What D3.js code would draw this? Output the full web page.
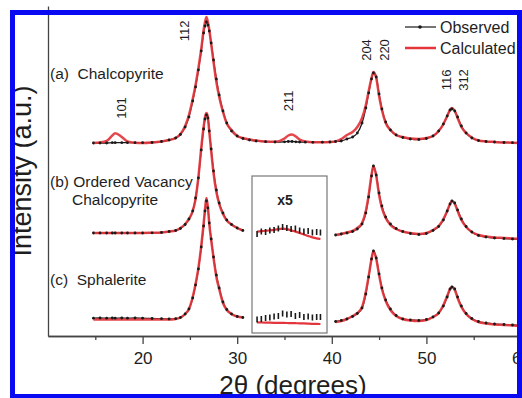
<!DOCTYPE html>
<html>
<head>
<meta charset="utf-8">
<script src="https://cdn.jsdelivr.net/npm/d3@7/dist/d3.min.js"></script>
<style>
  body { margin: 0; background: #fff; }
  text { font-family: "Liberation Sans", Arial, sans-serif; fill: #1e1e1e; white-space: pre; }
</style>
</head>
<body>
<script>
// 2theta grid shared by the three patterns (degrees)
const twoTheta = [
  14.8, 15.5, 16.2, 16.8, 17.1, 17.8, 18.4, 19.2, 20.0, 21.0,
  22.0, 22.8, 23.5, 24.0, 24.5, 24.9, 25.3, 25.6, 25.9, 26.2,
  26.45, 26.6, 26.75, 26.9, 27.05, 27.25, 27.5, 27.8, 28.1, 28.5,
  28.9, 29.4, 30.0, 30.6, 31.3, 32.0, 33.0, 34.0, 35.0, 35.4,
  35.8, 36.2, 36.6, 37.2, 38.0, 39.0, 39.8, 40.4, 41.0, 41.6,
  42.2, 42.7, 43.2, 43.6, 43.9, 44.2, 44.4, 44.7, 45.0, 45.3,
  45.7, 46.2, 46.8, 47.5, 48.3, 49.2, 50.0, 50.7, 51.3, 51.8,
  52.2, 52.5, 52.7, 53.0, 53.3, 53.7, 54.2, 54.8, 55.5, 56.3,
  57.2, 58.2, 59.1, 60.0
];

// (a) Chalcopyrite
const calcA = [
  0, 0.5, 2, 7.5, 9.7, 6, 1.5, 0.3, 0, 0.5,
  1.5, 3, 5, 9, 17, 28, 44, 58, 75, 94,
  113, 121, 126, 121, 113, 99, 81, 61, 46, 31,
  19.5, 13, 7, 5, 3.5, 2.5, 1.5, 1.2, 4.5, 7.5,
  8.5, 6.5, 3.5, 1.5, 0.8, 0.8, 1, 1.5, 4, 8,
  11, 16, 25, 38, 52, 65, 71, 65, 47, 33,
  20, 13, 8, 6, 4.5, 4, 5, 7, 12, 19,
  27, 33, 35, 32, 25, 16, 10, 5.5, 2.5, 1.5,
  1, 0.5, 0.3, 0
];
const obsA = [
  0, 0, 0, 0.3, 0.3, 0.3, 0.3, 0.3, 0.3, 0.5,
  1.5, 3, 5, 8.5, 16, 26, 42, 56, 73, 92,
  110, 117, 121, 118, 112, 100, 83, 64, 48, 32,
  20, 12, 7, 4.5, 3, 2, 1.3, 1, 1.2, 1.5,
  1.5, 1.2, 1, 0.8, 0.7, 0.8, 1, 1.5, 2, 4,
  6, 10, 20, 35, 50, 64, 70, 66, 49, 34,
  21, 13, 8, 5.5, 4, 3.5, 4.5, 7, 12, 19,
  27, 33, 34, 32, 26, 17, 10, 5, 2.5, 1.5,
  1, 0.5, 0.3, 0
];

// (b) Ordered Vacancy Chalcopyrite (null = hidden behind the x5 inset)
const calcB = [
  0, 0, 0, 0, 0, 0, 0, 0, 0, 0.2,
  0.5, 1.5, 2.5, 5, 9, 14, 22, 34, 56, 85,
  106, 116, 120, 116, 101, 82, 60, 41, 29, 19,
  12.5, 8.5, 5, 2.5, null, null, null, null, null, null,
  null, null, null, null, null, null, null, -2, -1, 0.5,
  2, 5, 10, 22, 38, 58, 67, 57, 38, 25,
  15, 8, 4, 1.5, 0, -1, 0, 3, 7, 14,
  22, 29, 32, 29, 22, 13, 6, 1, -2, -3.5,
  -4.5, -5, -5.5, -6
];
const obsB = [
  0, 0, 0, 0, 0, 0, 0, 0, 0, 0.2,
  0.5, 1.5, 2.5, 4.5, 8.5, 14, 22, 35, 55, 83,
  104, 114, 118, 115, 102, 84, 62, 43, 30, 20,
  13, 8.5, 5, 2.5, null, null, null, null, null, null,
  null, null, null, null, null, null, null, -2, -1, 0,
  1.5, 4, 9, 20, 36, 57, 67, 58, 40, 27,
  16, 9, 4.5, 1.5, -0.5, -1.5, -0.5, 2.5, 6.5, 13,
  22, 29, 32, 30, 23, 14, 6.5, 1, -2.5, -4,
  -5, -5.5, -6, -6.5
];

// (c) Sphalerite
const calcC = [
  -0.5, -0.5, -0.5, -0.5, -0.5, -0.5, -0.5, -0.5, -0.5, -0.5,
  -0.5, -0.5, 0, 1.5, 5, 10, 22, 35, 51, 73,
  95, 110, 121, 112, 95, 79, 61, 42, 30, 16,
  9, 5, 2.5, 1.5, null, null, null, null, null, null,
  null, null, null, null, null, null, null, -3, -2, 0,
  3, 6, 12, 27, 43, 60, 68, 60, 44, 30,
  18, 9, 3, 0, -1.5, -2, -1, 2, 6, 14,
  23, 30, 32, 29, 21, 12, 5, 0, -3, -4.5,
  -5.5, -6, -6.5, -7
];
const obsC = [
  0.8, 1, 0.8, 1, 0.8, 1, 0.8, 1, 0.8, 0.5,
  0.3, 0, 0.3, 1.5, 5, 10, 21, 34, 50, 72,
  93, 108, 118, 111, 96, 80, 62, 44, 31, 17,
  9.5, 5, 2.5, 1.5, null, null, null, null, null, null,
  null, null, null, null, null, null, null, -2.5, -1.5, 0,
  2.5, 5.5, 11, 25, 42, 60, 68, 61, 45, 31,
  19, 10, 3.5, 0, -1, -1.5, -0.5, 2, 6, 13,
  22, 30, 32, 30, 22, 13, 5.5, 0.5, -2.5, -4,
  -5, -5.5, -6, -6.5
];

// vertical offsets of the stacked patterns (intensity units)
const offsets = [193, 103, 17];

// x5 inset (31-39 deg region)
const insetTheta = [32.1, 32.55, 33.0, 33.45, 33.9, 34.35, 34.8, 35.25, 35.7, 36.15, 36.6, 37.05, 37.5, 37.95, 38.4, 38.8];
const insetCalcB = [1.3, 1.8, 2.3, 2.6, 3, 4, 4.7, 4, 2.5, 1.5, 0, -1.5, -3, -4.5, -5.5, -6];
const insetObsB = [-1, 1.5, 1, 2.5, 3, 4.5, 6, 5, 4, 4.5, 2.5, 1.5, 2, 0.5, 1, 0.5];
const insetCalcC = [-3.3, -3.5, -3.6, -3.7, -3.8, -3.8, -3.9, -4, -4.1, -4.2, -4.3, -4.4, -4.6, -4.8, -4.9, -5];
const insetObsC = [-0.5, 0, 1, 1.5, 2.5, 3, 5.5, 4.5, 5, 3, 4, 2, 2.5, 1.5, 2, 2];

const majorTicks = [20, 30, 40, 50, 60];
const minorTicks = [15, 25, 35, 45, 55];

// reflection labels: [2theta of text baseline, label, intensity at text centre]
const peakLabels = [
  [18.25, '101', 228],
  [24.9, '112', 305],
  [35.9, '211', 235],
  [44.15, '204', 286],
  [46.0, '220', 286],
  [52.6, '116', 256],
  [54.45, '312', 256]
];
const phaseNames = ['(a)  Chalcopyrite', '(b) Ordered Vacancy', 'Chalcopyrite', '(c)  Sphalerite'];

const red = '#e3363c';

const svg = d3.select('body').append('svg')
  .attr('width', 522)
  .attr('height', 398);

const x = d3.scaleLinear().domain([10, 60]).range([48, 521]);
const y = d3.scaleLinear().domain([0, 330]).range([336, 6]);

const line = d3.line()
  .defined(d => d.v != null)
  .x(d => x(d.t))
  .y(d => y(d.v))
  .curve(d3.curveMonotoneX);

function series(thetas, vals, off) {
  return thetas.map((t, i) => ({ t: t, v: vals[i] == null ? null : vals[i] + off }));
}

// axes
const xAxis = svg.append('g')
  .attr('transform', 'translate(0,336)')
  .call(d3.axisBottom(x).tickValues(majorTicks).tickSize(8).tickSizeOuter(0).tickPadding(8));
xAxis.selectAll('text').attr('font-size', 17).attr('fill', '#1e1e1e')
  .style('font-family', '"Liberation Sans", Arial, sans-serif');
svg.append('g')
  .attr('transform', 'translate(0,336)')
  .call(d3.axisBottom(x).tickValues(minorTicks).tickSize(4).tickFormat('').tickSizeOuter(0));
svg.append('g')
  .attr('transform', 'translate(48,0)')
  .call(d3.axisLeft(y).tickValues([]).tickSizeOuter(0));
svg.selectAll('.domain, .tick line').attr('stroke', '#444').attr('stroke-width', 1.3);

// inset box
svg.append('rect')
  .attr('x', 252).attr('y', 176).attr('width', 75).attr('height', 157)
  .attr('fill', 'none').attr('stroke', '#777').attr('stroke-width', 1.2);
svg.append('text')
  .attr('x', 285).attr('y', 205)
  .attr('text-anchor', 'middle').attr('font-size', 14).attr('font-weight', 'bold')
  .text('x5');

// patterns
const obsSets = [obsA, obsB, obsC];
const calcSets = [calcA, calcB, calcC];
obsSets.forEach((obs, k) => {
  const ob = series(twoTheta, obs, offsets[k]);
  const ca = series(twoTheta, calcSets[k], offsets[k]);
  svg.append('path').datum(ob)
    .attr('fill', 'none').attr('stroke', '#1a1a1a').attr('stroke-width', 1.3)
    .attr('d', line);
  svg.append('path').datum(ca)
    .attr('fill', 'none').attr('stroke', red).attr('stroke-width', 2.5).attr('stroke-opacity', 0.92)
    .attr('d', line);
  svg.append('g').selectAll('circle')
    .data(ob.filter(d => d.v != null))
    .join('circle')
    .attr('cx', d => x(d.t)).attr('cy', d => y(d.v))
    .attr('r', 1.4).attr('fill', '#1a1a1a');
});

// inset curves
const insetLine = d3.line().x(d => x(d.t)).y(d => y(d.v)).curve(d3.curveBasis);
[[insetObsB, insetCalcB, offsets[1]], [insetObsC, insetCalcC, offsets[2]]].forEach(s => {
  const ob = series(insetTheta, s[0], s[2]);
  const ca = series(insetTheta, s[1], s[2]);
  svg.append('path').datum(ca)
    .attr('fill', 'none').attr('stroke', red).attr('stroke-width', 2.2)
    .attr('d', insetLine);
  svg.append('g').selectAll('rect')
    .data(ob)
    .join('rect')
    .attr('x', d => x(d.t) - 0.8).attr('y', d => y(d.v) - 3)
    .attr('width', 1.6).attr('height', 6)
    .attr('fill', '#1a1a1a');
});

// peak labels (rotated)
svg.append('g').selectAll('text')
  .data(peakLabels)
  .join('text')
  .attr('transform', d => `translate(${x(d[0])},${y(d[2])}) rotate(-90)`)
  .attr('text-anchor', 'middle')
  .attr('font-size', 13)
  .text(d => d[1]);

// phase names
const namePos = [[50, 78.5], [50, 187], [72, 205], [50, 285]];
svg.append('g').selectAll('text')
  .data(phaseNames)
  .join('text')
  .attr('x', (d, i) => namePos[i][0])
  .attr('y', (d, i) => namePos[i][1])
  .attr('font-size', 15.5)
  .text(d => d);

// legend
const leg = svg.append('g');
leg.append('line').attr('x1', 405).attr('x2', 436).attr('y1', 27).attr('y2', 27)
  .attr('stroke', '#1a1a1a').attr('stroke-width', 1.2);
leg.append('circle').attr('cx', 420).attr('cy', 27).attr('r', 1.8).attr('fill', '#1a1a1a');
leg.append('text').attr('x', 440).attr('y', 33).attr('font-size', 16).text('Observed');
leg.append('line').attr('x1', 405).attr('x2', 436).attr('y1', 48).attr('y2', 48)
  .attr('stroke', red).attr('stroke-width', 2.5);
leg.append('text').attr('x', 440).attr('y', 54).attr('font-size', 16).text('Calculated');

// axis titles
svg.append('text')
  .attr('transform', 'translate(31,171) rotate(-90)')
  .attr('text-anchor', 'middle')
  .attr('font-size', 27)
  .text('Intensity (a.u.)');
svg.append('text')
  .attr('x', 293).attr('y', 394)
  .attr('text-anchor', 'middle')
  .attr('font-size', 26)
  .text('2θ (degrees)');

// blue frame
svg.append('rect')
  .attr('x', 12.5).attr('y', 12.5).attr('width', 507).attr('height', 384)
  .attr('fill', 'none').attr('stroke', '#0a0af2').attr('stroke-width', 5);
</script>
</body>
</html>
